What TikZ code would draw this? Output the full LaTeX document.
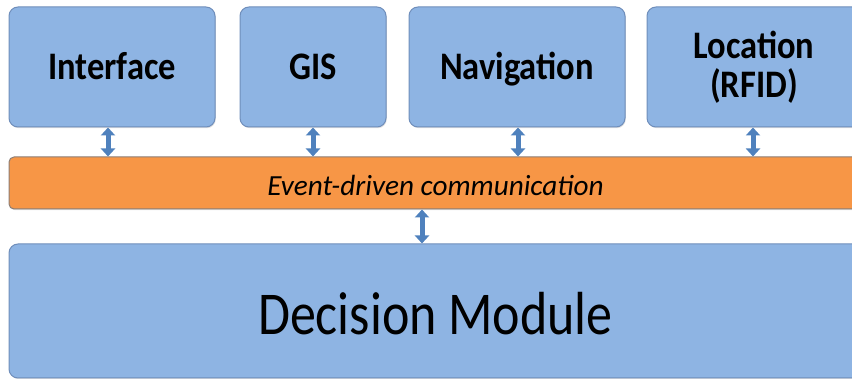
\documentclass[tikz,border=0pt]{standalone}
\usepackage{graphicx}
\usepackage{fontspec}
\setmainfont{Carlito}
\usetikzlibrary{arrows.meta,shadows}
\definecolor{boxblue}{HTML}{8EB4E3}
\definecolor{boxedge}{HTML}{6F8EBB}
\definecolor{barorange}{HTML}{F79646}
\definecolor{baredge}{HTML}{8C7E76}
\definecolor{arrowblue}{HTML}{4F81BD}
\begin{document}
\begin{tikzpicture}[x=1pt,y=-1pt,
  module/.style={draw=boxedge, line width=1pt, fill=boxblue, rounded corners=9pt,
    inner sep=0pt, text=black, align=center,
    drop shadow={shadow xshift=0.8pt, shadow yshift=-1.2pt, opacity=0.25}},
  toplabel/.style={font=\bfseries\fontsize{34.5}{39}\selectfont},
  oneline/.style={text height=26pt, text depth=0pt},
  barbox/.style={draw=baredge, line width=1pt, fill=barorange, rounded corners=5pt,
    inner sep=0pt, text=black,
    drop shadow={shadow xshift=0.8pt, shadow yshift=-1.2pt, opacity=0.25}},
  link/.style={draw=arrowblue, line width=5pt,
    {Triangle[length=8pt,width=14pt]}-{Triangle[length=8pt,width=14pt]}}]
\useasboundingbox (0,0) rectangle (852,379);
\clip (0,0) rectangle (852,379);

\node[module, toplabel, oneline, minimum width=206pt, minimum height=120pt] (iface) at (112,67)
  {\scalebox{1}[1.13]{Interface}};
\node[module, toplabel, oneline, minimum width=146pt, minimum height=120pt] (gis) at (313,67)
  {\scalebox{1}[1.13]{GIS}};
\node[module, toplabel, oneline, minimum width=216pt, minimum height=120pt] (nav) at (517,67)
  {\scalebox{1}[1.13]{Navigation}};
\node[module, toplabel, minimum width=214pt, minimum height=120pt] (loc) at (754,67)
  {\scalebox{1}[1.13]{Location}\\[0pt]\scalebox{1}[1.13]{(RFID)}};

\node[barbox, font=\itshape\fontsize{29.2}{32}\selectfont, text height=24.4pt, text depth=0pt,
  minimum width=853pt, minimum height=52pt] (bar) at (435.5,183)
  {Event-driven communication};

\node[module, font=\fontsize{52}{56}\selectfont, text height=47pt, text depth=0pt,
  minimum width=853pt, minimum height=134pt] (dm) at (435.5,311)
  {\scalebox{1}[1.17]{Decision Module}};

\draw[link] ([xshift=-4pt]iface.south) -- ([xshift=-4pt]iface.south |- bar.north);
\draw[link] (gis.south) -- (gis.south |- bar.north);
\draw[link] ([xshift=1pt]nav.south) -- ([xshift=1pt]nav.south |- bar.north);
\draw[link] ([xshift=-1pt]loc.south) -- ([xshift=-1pt]loc.south |- bar.north);
\draw[link] ([xshift=-13.5pt]bar.south) -- ([xshift=-13.5pt]dm.north);
\end{tikzpicture}
\end{document}
